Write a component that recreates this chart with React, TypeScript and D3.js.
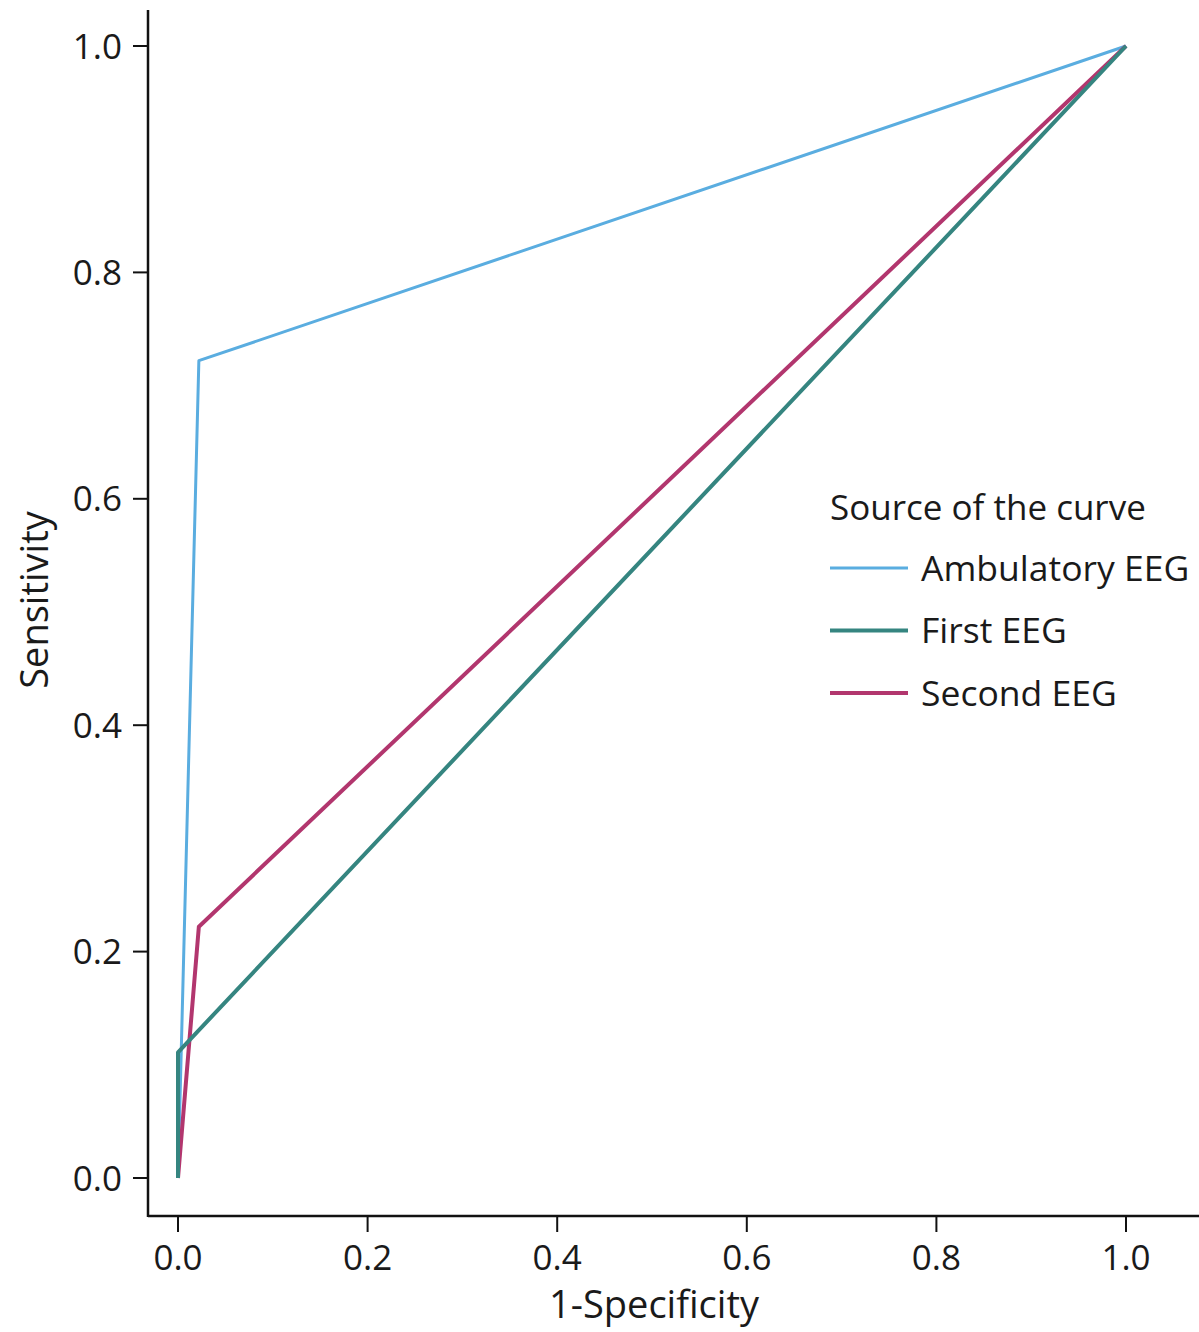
import React from "react";
import { scaleLinear, line } from "d3";

const xTicks = [0, 0.2, 0.4, 0.6, 0.8, 1.0];
const yTicks = [0, 0.2, 0.4, 0.6, 0.8, 1.0];

const seriesNames = ["Ambulatory EEG", "First EEG", "Second EEG"];
const seriesColors = ["#5aade0", "#358580", "#b2366e"];
const seriesWidths = [3, 4, 4];
// points as [1-specificity, sensitivity]
const ambulatoryPts: [number, number][] = [[0, 0], [0.022, 0.722], [1, 1]];
const firstPts: [number, number][] = [[0, 0], [0, 0.111], [1, 1]];
const secondPts: [number, number][] = [[0, 0], [0.022, 0.222], [1, 1]];
const seriesPts = [ambulatoryPts, firstPts, secondPts];
const drawOrder = [0, 2, 1];

const W = 1199;
const H = 1332;
const font = "'Open Sans', 'Noto Sans', sans-serif";

export default function App() {
  const x = scaleLinear().domain([0, 1]).range([178, 1126]);
  const y = scaleLinear().domain([0, 1]).range([1178, 46]);
  const path = line<[number, number]>()
    .x((d) => x(d[0]))
    .y((d) => y(d[1]));

  const axisX = 148;
  const axisY = 1216;

  return (
    <svg
      width={W}
      height={H}
      style={{ position: "absolute", left: 0, top: 0, background: "#fff" }}
      fontFamily={font}
    >
      {/* axes */}
      <line x1={axisX} y1={10} x2={axisX} y2={axisY + 1} stroke="#111" strokeWidth={2.5} />
      <line x1={axisX} y1={axisY} x2={W} y2={axisY} stroke="#111" strokeWidth={2.5} />

      {yTicks.map((t) => (
        <g key={"y" + t}>
          <line x1={axisX - 15} x2={axisX} y1={y(t)} y2={y(t)} stroke="#111" strokeWidth={2} />
          <text x={axisX - 26} y={y(t)} dy="0.36em" textAnchor="end" fontSize={35} fill="#1a1a1a">
            {t.toFixed(1)}
          </text>
        </g>
      ))}
      {xTicks.map((t) => (
        <g key={"x" + t}>
          <line x1={x(t)} x2={x(t)} y1={axisY} y2={axisY + 16} stroke="#111" strokeWidth={2} />
          <text x={x(t)} y={axisY + 54} textAnchor="middle" fontSize={35} fill="#1a1a1a">
            {t.toFixed(1)}
          </text>
        </g>
      ))}

      <text x={654} y={1318} textAnchor="middle" fontSize={38} fill="#1a1a1a">
        1-Specificity
      </text>
      <text
        transform={`translate(48, 600) rotate(-90)`}
        textAnchor="middle"
        fontSize={38}
        fill="#1a1a1a"
      >
        Sensitivity
      </text>

      {/* curves */}
      {drawOrder.map((i) => (
        <path
          key={seriesNames[i]}
          d={path(seriesPts[i]) ?? ""}
          fill="none"
          stroke={seriesColors[i]}
          strokeWidth={seriesWidths[i]}
          strokeLinejoin="round"
        />
      ))}

      {/* legend */}
      <text x={830} y={520} fontSize={35} fill="#1a1a1a">
        Source of the curve
      </text>
      {seriesNames.map((name, i) => {
        const ly = 568 + i * 62.5;
        return (
          <g key={name}>
            <line x1={830} x2={908} y1={ly} y2={ly} stroke={seriesColors[i]} strokeWidth={seriesWidths[i]} />
            <text x={921} y={ly} dy="0.36em" fontSize={35.5} fill="#1a1a1a">
              {name}
            </text>
          </g>
        );
      })}
    </svg>
  );
}
